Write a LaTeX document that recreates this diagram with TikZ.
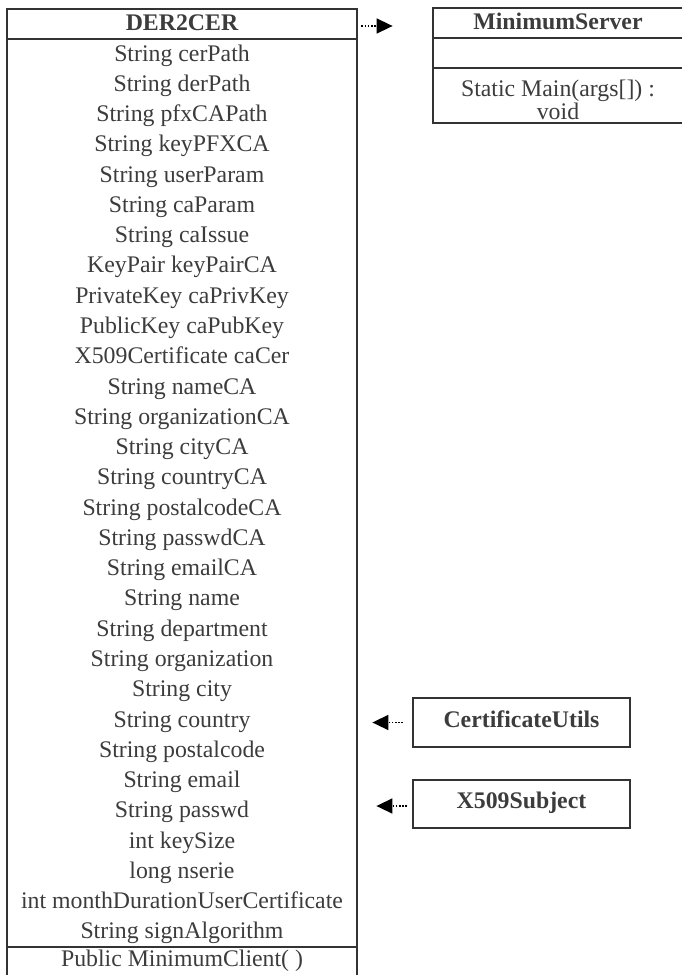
\documentclass[tikz,border=0pt]{standalone}
\usepackage{fontspec}
\setmainfont{Liberation Serif}
\usepackage{xcolor}
\usetikzlibrary{positioning, arrows.meta}
\definecolor{umlline}{HTML}{333333}
\definecolor{umltext}{HTML}{3C3C3C}

\begin{document}
\begin{tikzpicture}[x=0.5pt, y=-0.5pt,
        box/.style={draw=umlline, line width=1pt},
        attr/.style={text=umltext, font=\fontsize{11.9pt}{11.5pt}\selectfont, text height=0.7em, text depth=0.22em, inner sep=0pt},
        cls/.style={attr, font=\fontsize{11.9pt}{11.5pt}\selectfont\bfseries},
        dep/.style={black, line width=0.8pt, dash pattern=on 0.8pt off 0.8pt, -{Triangle[length=8pt, width=7.5pt]}}]
        \useasboundingbox (0,0) rectangle (681,975);

        % DER2CER class
        \draw[box] (7,990) |- (357,9) -- (357,990);
        \draw[box] (7,39) -- (357,39)
            (7,947) -- (357,947);
        \node[cls, minimum width=175pt] (der) at (182,26) {DER2CER};
        \foreach \t [count=\i] in {String cerPath, String derPath, String pfxCAPath, String keyPFXCA,
            String userParam, String caParam, String caIssue, KeyPair keyPairCA, PrivateKey caPrivKey,
            PublicKey caPubKey, X509Certificate caCer, String nameCA, String organizationCA, String cityCA,
            String countryCA, String postalcodeCA, String passwdCA, String emailCA, String name,
            String department, String organization, String city, String country, String postalcode,
            String email, String passwd, int keySize, long nserie, int monthDurationUserCertificate,
            String signAlgorithm} {
            \node[attr] (a\i) at (182, {56.3+30.27*(\i-1)}) {\t};
        }
        \node[attr] (mc) at (182,962) {Public MinimumClient( )};

        % MinimumServer class
        \draw[box] (683,8) -| (433,123) -- (683,123);
        \draw[box] (433,38) -- (683,38)
            (433,68) -- (683,68);
        \node[cls, minimum width=125pt] (srv) at (558,25) {MinimumServer};
        \node[text=umltext, font=\fontsize{11.9pt}{11.5pt}\selectfont, align=center, inner sep=0pt] (srvm) at (558,100) {Static Main(args[]) :\\void};

        % used classes
        \node[box, cls, minimum width=108.5pt, minimum height=24.5pt] (cu) at (521.5,722.5) {CertificateUtils};
        \node[box, cls, minimum width=108.5pt, minimum height=24pt] (xs) at (521.5,804) {X509Subject};

        \draw[dep, shorten <=2pt, shorten >=20pt] (der.east) -- (der.east -| srv.west);
        \draw[dep, shorten <=4.5pt, shorten >=7.5pt] (cu.west) -- (cu.west -| der.east);
        \draw[dep, shorten <=2.5pt, shorten >=9.5pt] ([yshift=-1pt]xs.west) -- ([yshift=-1pt]xs.west -| der.east);
\end{tikzpicture}
\end{document}
